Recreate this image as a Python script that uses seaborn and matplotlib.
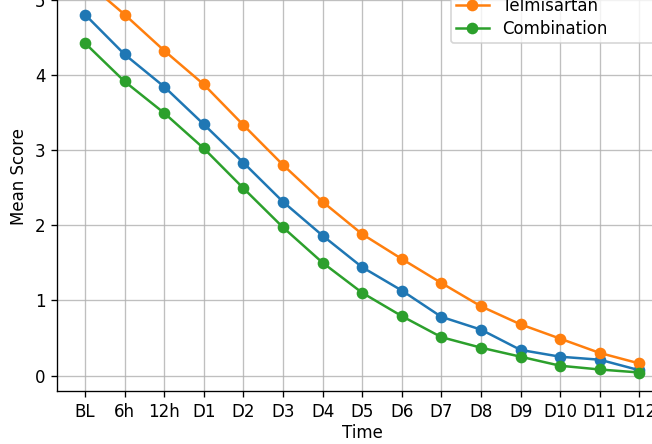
import matplotlib
matplotlib.use("Agg")
import matplotlib.pyplot as plt
import seaborn as sns
import pandas as pd

time_points = ["BL", "6h", "12h", "D1", "D2", "D3", "D4", "D5", "D6",
               "D7", "D8", "D9", "D10", "D11", "D12"]
groups = ["Standard Therapy", "Telmisartan", "Combination"]
standard = [4.80, 4.27, 3.84, 3.34, 2.83, 2.31, 1.86, 1.44, 1.13,
            0.78, 0.61, 0.34, 0.25, 0.21, 0.07]
telmisartan = [5.25, 4.80, 4.32, 3.87, 3.33, 2.80, 2.31, 1.88, 1.55,
               1.23, 0.92, 0.68, 0.49, 0.30, 0.16]
combination = [4.42, 3.91, 3.49, 3.02, 2.49, 1.97, 1.50, 1.10, 0.79,
               0.51, 0.37, 0.25, 0.13, 0.08, 0.04]

rows = []
for g, vals in zip(groups, [standard, telmisartan, combination]):
    for i, (t, v) in enumerate(zip(time_points, vals)):
        rows.append({"Group": g, "Time": t, "pos": i, "Mean Score": v})
df = pd.DataFrame(rows)

dpi = 120
fig = plt.figure(figsize=(652 / dpi, 444 / dpi), dpi=dpi)
ax = fig.add_axes([57.3 / 652, 53 / 444, 609.8 / 652, 429.1 / 444])

sns.lineplot(data=df, x="pos", y="Mean Score", hue="Group", hue_order=groups,
             palette=["#1f77b4", "#ff7f0e", "#2ca02c"], marker="o",
             markersize=6, markeredgewidth=1, markeredgecolor=None,
             linewidth=1.5, ax=ax)

ax.set_xticks(range(len(time_points)))
ax.set_xticklabels(time_points)
ax.set_xlim(-0.7, len(time_points) - 1 + 0.7)
ax.set_ylim(-0.206, 5.5)
ax.set_xlabel("Time", labelpad=2.2)
ax.set_ylabel("Mean Score")
ax.grid(True, color="#b0b0b0", linewidth=0.8, alpha=0.8)
ax.set_axisbelow(True)

sns.move_legend(ax, loc="lower left", bbox_to_anchor=(450.7 / 652, 1 - 43.3 / 444),
                bbox_transform=fig.transFigure, borderaxespad=0, title=None,
                fontsize=10, borderpad=0.3, labelspacing=0.32)

fig.savefig("out.png", dpi=dpi)
